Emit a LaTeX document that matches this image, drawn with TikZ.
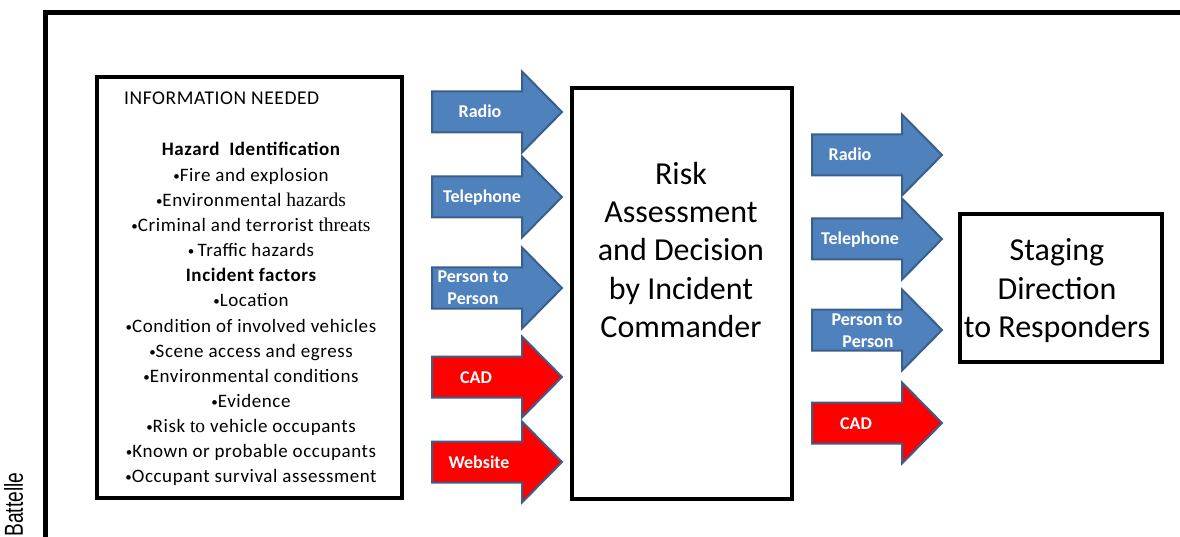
\documentclass[tikz,border=0pt]{standalone}
\usepackage{fontspec}
\setmainfont{Carlito}
\newfontfamily\listfont[LetterSpace=3]{Carlito}
\newfontfamily\creditfont{Liberation Sans}
\newfontfamily\wordserif{Liberation Serif}

\definecolor{arrowblue}{HTML}{4F81BD}
\definecolor{arrowedge}{HTML}{3A5F8B}
\definecolor{alertred}{HTML}{FF0000}

% small list bullet
\newcommand\dotmark{{\fontsize{13}{13}\selectfont\raisebox{1pt}{\textbullet}}}
% word set in the serif face
\newcommand\serifword[1]{{\wordserif\fontsize{19.5}{25}\selectfont #1}}

% block arrow: #1 = left end x, #2 = centre y, #3 = fill colour
\newcommand\flowarrow[3]{%
  \draw[arrowline, fill=#3]
    (#1,#2-20.5) -- (#1+90,#2-20.5) -- (#1+90,#2-40.5) -- (#1+130,#2)
    -- (#1+90,#2+40.5) -- (#1+90,#2+20.5) -- (#1,#2+20.5) -- cycle;}

\tikzset{
  frame/.style={line width=5pt},
  panel/.style={draw, line width=4pt, inner sep=0pt},
  arrowline/.style={draw=arrowedge, line width=2pt, line join=miter},
  arrowlabel/.style={anchor=base, text=white, inner sep=0pt,
    font=\fontsize{18}{22}\selectfont\bfseries},
  listline/.style={anchor=base, inner sep=0pt, font=\listfont\fontsize{19}{25}\selectfont},
  bigtext/.style={anchor=base, inner sep=0pt, font=\fontsize{32}{38}\selectfont},
}

\begin{document}
\begin{tikzpicture}[x=1pt,y=-1pt]
\useasboundingbox (0,0) rectangle (1180,537);
\clip (0,0) rectangle (1180,537);

% outer frame, running off the right and lower edges
\draw[frame] (45.5,560) -- (45.5,12.5) -- (1200,12.5);

% credit line
\node[rotate=90, anchor=base west, inner sep=0pt,
      font=\creditfont\fontsize{26}{26}\selectfont] (credit) at (23,537)
      {\scalebox{0.74}[1]{Battelle}};

% the three boxes
\node[panel, minimum width=305pt, minimum height=420pt] (info) at (249.5,287.5) {};
\node[panel, minimum width=220pt, minimum height=411pt] (risk) at (682,293.5) {};
\node[panel, minimum width=202pt, minimum height=148pt] (staging) at (1061,288) {};

% information needed
\node[anchor=base west, inner sep=0pt, font=\listfont\fontsize{19.5}{25}\selectfont] (title)
  at (124,105) {INFORMATION NEEDED};
\foreach \txt [count=\i from 0] in {
  {\bfseries Hazard\ \ Identification},
  {\dotmark Fire and explosion},
  {\dotmark Environmental \serifword{hazards}},
  {\dotmark Criminal and terrorist \serifword{threats}},
  {\dotmark\,Traffic hazards},
  {\bfseries Incident factors},
  {\dotmark Location},
  {\dotmark Condition of involved vehicles},
  {\dotmark Scene access and egress},
  {\dotmark Environmental conditions},
  {\dotmark Evidence},
  {\dotmark Risk \serifword{to} vehicle occupants},
  {\dotmark Known or probable occupants},
  {\dotmark Occupant survival assessment}}
  \node[listline] (item\i) at (251,156+25.15*\i) {\txt};

% decision box text
\foreach \txt [count=\i from 0] in {Risk, Assessment, and Decision, by Incident, Commander}
  \node[bigtext] (riskline\i) at (681,185+38*\i) {\txt};

% staging box text
\foreach \txt [count=\i from 0] in {Staging, Direction, to Responders}
  \node[bigtext] (stageline\i) at (1057,261+38*\i) {\txt};

% incoming channels
\flowarrow{432}{112}{arrowblue}
\flowarrow{432}{197}{arrowblue}
\flowarrow{432}{288}{arrowblue}
\flowarrow{432}{377}{alertred}
\flowarrow{432}{462}{alertred}
\node[arrowlabel] (inradio) at (480,118) {Radio};
\node[arrowlabel] (inphone) at (482,203) {Telephone};
\node[arrowlabel] (inpersonA) at (473,283) {Person to};
\node[arrowlabel] (inpersonB) at (473,305) {Person};
\node[arrowlabel] (incad) at (476,383) {CAD};
\node[arrowlabel] (inweb) at (479,468) {Website};

% outgoing channels
\flowarrow{812}{155}{arrowblue}
\flowarrow{812}{239}{arrowblue}
\flowarrow{812}{330}{arrowblue}
\flowarrow{812}{423}{alertred}
\node[arrowlabel] (outradio) at (850,161) {Radio};
\node[arrowlabel] (outphone) at (860,245) {Telephone};
\node[arrowlabel] (outpersonA) at (867,325) {Person to};
\node[arrowlabel] (outpersonB) at (868,347) {Person};
\node[arrowlabel] (outcad) at (856,429) {CAD};
\end{tikzpicture}
\end{document}
